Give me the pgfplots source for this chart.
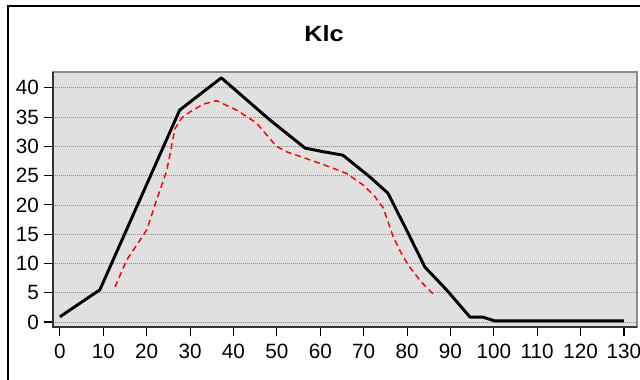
\documentclass[border=0pt]{standalone}
\usepackage{fontspec}
\setmainfont{Liberation Sans}
\newfontfamily\titlefont[FakeStretch=1.15]{Liberation Sans}
\usepackage{pgfplots}
\pgfplotsset{compat=1.18}

\begin{document}
\begin{tikzpicture}
% canvas and outer frame
\useasboundingbox (0,0) rectangle (480pt,-284.25pt);
\clip (0,0) rectangle (480pt,-284.25pt);
\fill[white] (0,0) rectangle (480pt,-284.25pt);
\draw[black, line width=1.1pt] (6pt,-300pt) -- (6pt,-4.5pt) -- (500pt,-4.5pt);

\node[font=\titlefont\fontsize{16.5}{18}\selectfont\bfseries] at (243pt,-25.5pt) {Klc};

\begin{axis}[
  at={(39.75pt,-245.25pt)}, anchor=south west,
  scale only axis, width=438pt, height=191.25pt,
  xmin=-1.6, xmax=133, ymin=-0.85, ymax=42.7,
  xtick={0,10,...,130}, ytick={0,5,...,40},
  tick pos=left, tick align=outside,
  major tick length=7pt,
  tick style={black, line width=0.8pt},
  axis background/.style={fill=black!12},
  axis line style={draw=black!45, line width=0.9pt},
  ymajorgrids,
  major grid style={black!45, line width=0.6pt, dash pattern=on 0.6pt off 0.9pt},
  /pgf/number format/assume math mode=true,
  ticklabel style={font=\fontsize{15.5}{17}\selectfont},
  xticklabel style={yshift=-2pt},
  yticklabel style={xshift=0pt},
  clip=false,
]
\draw[black!80, line width=0.9pt] (rel axis cs:0,1) -- (rel axis cs:0,0) -- (rel axis cs:1,0);

\addplot[black, line width=2.2pt, line join=round] coordinates {
  (0,0.9) (9.2,5.5) (27.6,36.2) (32.3,38.9) (37.2,41.7)
  (48.4,34.5) (56.5,29.7) (60.6,29.1) (65.2,28.5) (71.4,24.8)
  (75.6,22.0) (79.9,15.7) (84.1,9.4) (89.1,5.5) (94.5,0.85)
  (97.4,0.85) (100.2,0.2) (130,0.2)
};

\addplot[red, line width=1.1pt, dash pattern=on 4.5pt off 3pt, line join=round] coordinates {
  (12.7,6.0) (15.4,10.6) (20.0,15.7) (22.3,20.9) (24.6,25.8) (25.6,29.5) (26.5,33.0)
  (28.0,34.8) (30.0,35.9) (33.0,37.2) (36.1,37.8) (40.7,36.2) (45.3,34.0)
  (49.9,30.0) (52.5,29.0) (55.3,28.3) (61.4,26.7) (66.0,25.4) (69.9,23.4)
  (72.5,21.5) (74.5,19.5) (76.8,14.6) (78.5,12.0) (80.3,9.7) (83.2,6.9) (86.5,4.4)
};
\end{axis}
\end{tikzpicture}
\end{document}
